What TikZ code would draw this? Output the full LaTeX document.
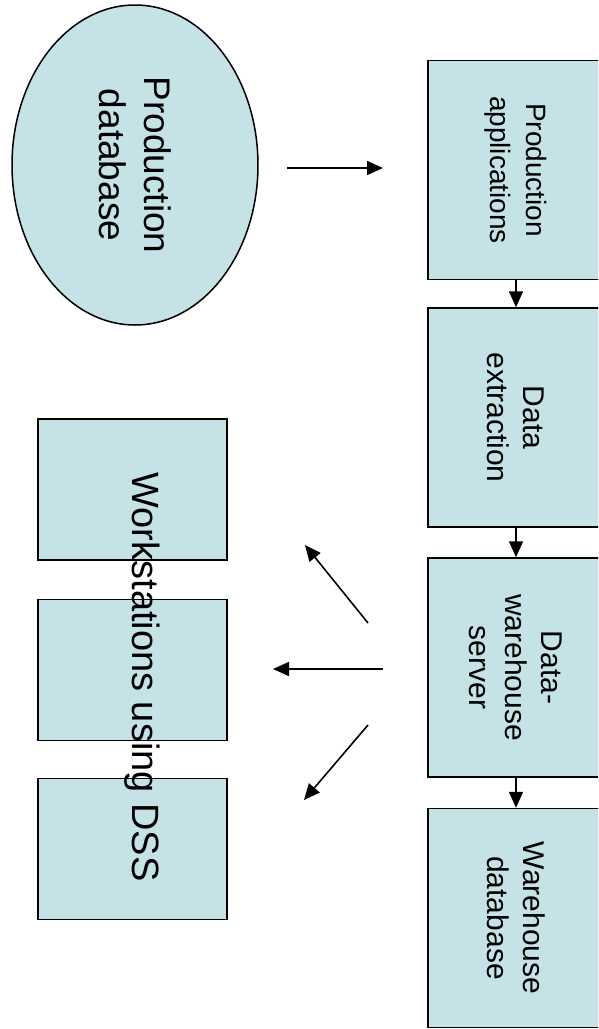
\documentclass[tikz,border=0pt]{standalone}
\usepackage{fontspec}
\setmainfont{Liberation Sans}
\usetikzlibrary{arrows.meta,shapes.geometric}
\definecolor{boxblue}{RGB}{197,226,231}
\tikzset{
  box/.style={draw, fill=boxblue, line width=1.5pt, rotate=-90, align=center, inner sep=0pt},
  flowbox/.style={box, minimum width=219pt, minimum height=176pt, font=\fontsize{30}{36}\selectfont},
  wsbox/.style={draw, fill=boxblue, line width=1.5pt, minimum width=189pt, minimum height=141pt, inner sep=0pt},
  arr/.style={-{Triangle[length=16pt,width=14pt]}, line width=1.6pt},
}

\begin{document}
\begin{tikzpicture}[x=1pt,y=-1pt]
\clip (0,0) rectangle (598,1029);
\fill[white] (0,0) rectangle (598,1029);

\node[box, ellipse, minimum width=320pt, minimum height=246pt, font=\fontsize{37}{45}\selectfont] (proddb) at (135,165) {Production\\database};

\node[flowbox, font=\fontsize{28}{36}\selectfont] (prodapp) at (516,170) {Production\\applications};
\node[flowbox] (dataext) at (516,417.5) {Data\\extraction};
\node[flowbox] (dwserver) at (516,667.5) {Data-\\warehouse\\server};
\node[flowbox] (whdb) at (516,918) {Warehouse\\database};

\node[wsbox] (ws1) at (132.5,489.5) {};
\node[wsbox] (ws2) at (132.5,670) {};
\node[wsbox] (ws3) at (132.5,849) {};
\node[rotate=-90, font=\fontsize{38}{45}\selectfont, inner sep=0pt] (wslabel) at (142,677) {Workstations using DSS};

\draw[arr] (prodapp) -- (dataext);
\draw[arr] (dataext) -- (dwserver);
\draw[arr] (dwserver) -- (whdb);

\coordinate (in1) at (287,168);
\coordinate (in2) at (383,168);
\draw[arr] (in1) -- (in2);

\coordinate (up1) at (368,623);
\coordinate (up2) at (305,545);
\coordinate (mid1) at (383,669);
\coordinate (mid2) at (273,669);
\coordinate (lo1) at (368,725);
\coordinate (lo2) at (304,800);
\draw[arr] (up1) -- (up2);
\draw[arr] (mid1) -- (mid2);
\draw[arr] (lo1) -- (lo2);
\end{tikzpicture}
\end{document}
